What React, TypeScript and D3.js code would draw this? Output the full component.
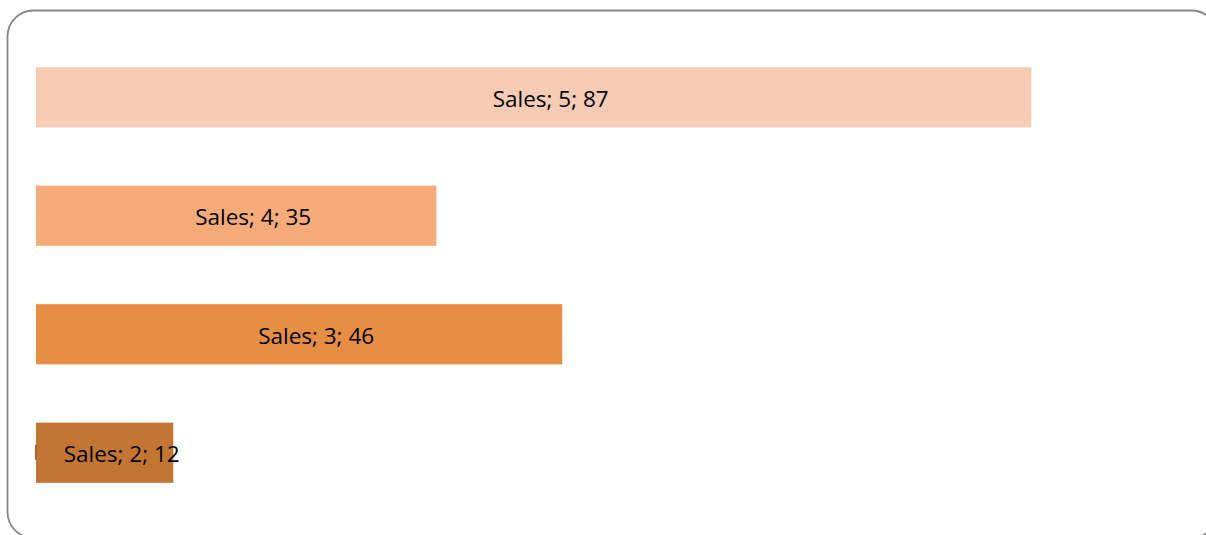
import React from 'react';
import * as d3 from 'd3';

const width = 1206;
const height = 535;

const seriesName = 'Sales';
const categories = ['5', '4', '3', '2'];
const values = [87, 35, 46, 12];
const colors = ['#f8cbb4', '#f7ab79', '#e88d44', '#c37634'];

const xScale = d3.scaleLinear().domain([0, 100]).range([36, 1180]);
const yScale = d3.scaleBand().domain(categories).range([38, 512]).paddingInner(0.492).paddingOuter(0.246);

export default function App() {
    return (
        <svg width={width} height={height} style={{ position: 'absolute', left: 0, top: 0 }}>
            <rect x={7.5} y={10.5} width={1210} height={527.5} rx={26} ry={26}
                fill="#fff" stroke="#878787" strokeWidth={1.8} />
            {categories.map((c, i) => {
                const y = yScale(c) as number;
                const x0 = xScale(0);
                const x1 = xScale(values[i]);
                const cy = y + yScale.bandwidth() / 2;
                return (
                    <g key={c}>
                        <rect x={x0} y={y} width={x1 - x0} height={yScale.bandwidth()} fill={colors[i]} />
                        {i === categories.length - 1 && (
                            <rect x={x0 - 1} y={cy - 8} width={2} height={15} fill="#a8652c" />
                        )}
                        <text x={(x0 + x1) / 2 + 17} y={cy + 9.5} textAnchor="middle"
                            style={{ fontFamily: '"Open Sans", sans-serif', fontSize: 22.5, fill: '#000' }}>
                            {`${seriesName}; ${c}; ${values[i]}`}
                        </text>
                    </g>
                );
            })}
        </svg>
    );
}
